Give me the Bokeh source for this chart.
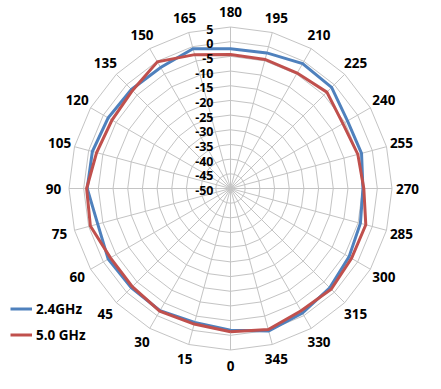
import numpy as np
from bokeh.plotting import figure
from bokeh.models import Range1d, Legend, LegendItem
from bokeh.core.properties import value
from bokeh.embed import file_html
from bokeh.resources import INLINE

# ---- data ----
angles = [0, 15, 30, 45, 60, 75, 90, 105, 120, 135, 150, 165,
          180, 195, 210, 225, 240, 255, 270, 285, 300, 315, 330, 345]
gain_24 = [-1.7, -2.8, -2.0, -2.2, -1.9, -3.2, -1.2, -1.3, -1.9, -2.3, -2.4, -0.7,
           -2.4, -2.2, -0.9, -1.3, -4.0, -3.8, -4.9, -4.2, -3.4, -2.2, -1.0, 0.2]
gain_50 = [-1.2, -2.2, -1.8, -2.7, -2.8, -0.6, -1.0, -2.8, -3.4, -2.8, -0.2, -2.8,
           -4.4, -4.5, -4.6, -3.6, -5.8, -5.1, -4.6, -2.3, -2.4, -1.5, -1.9, -0.3]
ring_values = [-50, -45, -40, -35, -30, -25, -20, -15, -10, -5, 0, 5]
series_names = ["2.4GHz", "5.0 GHz"]

# ---- geometry ----
RMIN, RMAX = ring_values[0], ring_values[-1]
R_PX = 161.5
LABEL_R = 177.0


def polar(label_deg, v):
    r = (np.asarray(v, dtype=float) - RMIN) / (RMAX - RMIN) * R_PX
    th = np.radians(270.0 - np.asarray(label_deg, dtype=float))
    return r * np.cos(th), r * np.sin(th)


W, H = 425, 373
cx, cy = 230, 188  # centre, px from left / top
p = figure(width=W, height=H, output_backend="svg", toolbar_location=None,
           x_range=Range1d(-cx, W - cx), y_range=Range1d(-(H - cy), cy),
           min_border=0, background_fill_color="white",
           border_fill_color="white")
p.axis.visible = False
p.grid.visible = False
p.outline_line_color = None

grid_col = "#c4c4c4"
closed = angles + [angles[0]]
# rings
ring_xs, ring_ys = [], []
for rv in ring_values[1:]:
    x, y = polar(closed, [rv] * len(closed))
    ring_xs.append(list(x))
    ring_ys.append(list(y))
p.multi_line(ring_xs, ring_ys, line_color=grid_col, line_width=1)
# spokes
sp_xs, sp_ys = [], []
for a in angles:
    x, y = polar([a, a], [RMIN, RMAX])
    sp_xs.append(list(x))
    sp_ys.append(list(y))
p.multi_line(sp_xs, sp_ys, line_color=grid_col, line_width=1)

# series
colors = ["#4f81bd", "#c0504d"]
renderers = []
for vals, col in zip([gain_24, gain_50], colors):
    x, y = polar(closed, vals + [vals[0]])
    r = p.line(list(x), list(y), line_color=col, line_width=3,
               line_join="miter")
    renderers.append(r)

# angle labels
lx, ly = polar(angles, [RMIN + (RMAX - RMIN) * LABEL_R / R_PX] * len(angles))
p.text(x=list(lx), y=list(ly), text=[str(a) for a in angles],
       text_align="center", text_baseline="middle",
       text_font=value("Open Sans"), text_font_style="bold",
       text_font_size="13.5px", text_color="#000000")

# radial labels
rx, ry = polar([180] * len(ring_values), ring_values)
p.text(x=[v - 17 for v in rx], y=list(ry), text=[str(v) for v in ring_values],
       text_align="right", text_baseline="middle", y_offset=2,
       text_font=value("Open Sans"), text_font_style="bold",
       text_font_size="12.5px", text_color="#000000")

legend = Legend(items=[LegendItem(label=n, renderers=[r])
                       for n, r in zip(series_names, renderers)],
                location=(10, 27), orientation="vertical",
                border_line_color=None, background_fill_alpha=0,
                padding=0, margin=0, spacing=3,
                label_height=23, glyph_height=23, glyph_width=22,
                label_standoff=4,
                label_text_font="Open Sans", label_text_font_style="bold",
                label_text_font_size="13.5px", label_text_color="#000000")
p.add_layout(legend, "center")

open("out.html", "w").write(file_html(p, INLINE))
